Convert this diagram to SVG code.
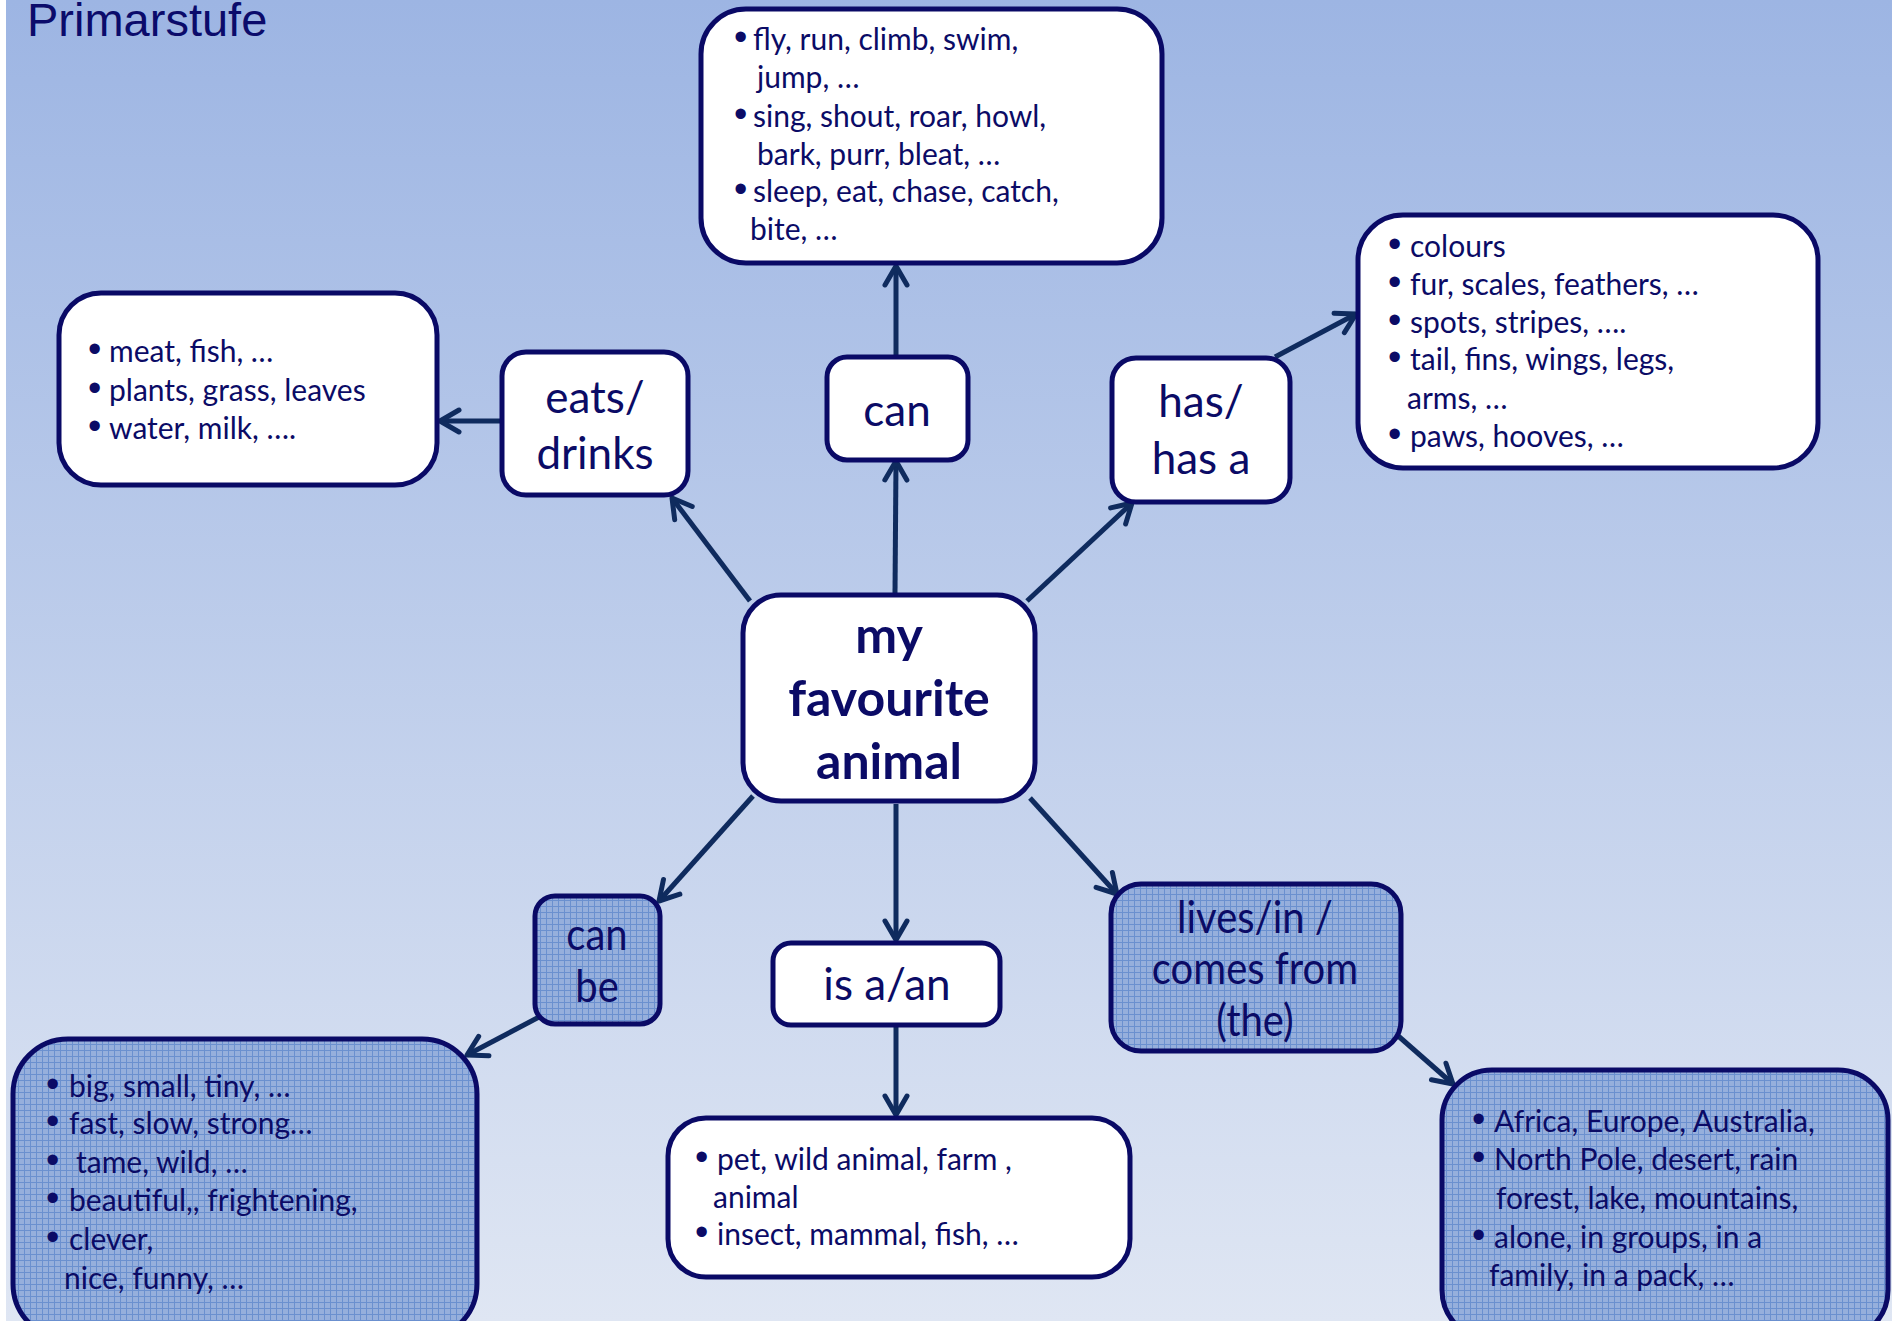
<svg xmlns="http://www.w3.org/2000/svg" width="1892" height="1321" viewBox="0 0 1892 1321">
<defs>
<linearGradient id="bg" x1="0" y1="0" x2="0" y2="1">
<stop offset="0" stop-color="#9db5e3"/>
<stop offset="1" stop-color="#dfe6f3"/>
</linearGradient>
<pattern id="grid" width="6" height="6" patternUnits="userSpaceOnUse">
<rect width="6" height="6" fill="#96afdc"/>
<path d="M0,0.5H6M0.5,0V6" stroke="#6b90cf" stroke-width="1"/>
</pattern>
<marker id="arr" viewBox="0 0 26 26" refX="22" refY="13" markerWidth="26" markerHeight="26" markerUnits="userSpaceOnUse" orient="auto" overflow="visible">
<path d="M3,2 L22,13 L3,24" fill="none" stroke="#0f2b5e" stroke-width="5" stroke-linecap="round" stroke-linejoin="round"/>
</marker>
</defs>
<style>
.box{fill:#fff;stroke:#0a0a66;stroke-width:5}
.pbox{fill:url(#grid);stroke:#0a0a66;stroke-width:5}
.lbl{font-family:Lato,"Liberation Sans",sans-serif;font-size:44px;fill:#0b0b66;text-anchor:middle}
.plbl{font-family:Lato,"Liberation Sans",sans-serif;font-size:40px;fill:#0b0b66;text-anchor:middle}
.lst{font-family:Lato,"Liberation Sans",sans-serif;font-size:30px;fill:#0b0b66}
.bul{font-family:"Liberation Sans",sans-serif;font-size:38px}
.ctr{font-family:Lato,"Liberation Sans",sans-serif;font-size:50px;font-weight:bold;fill:#0b0b66;text-anchor:middle}
.con{stroke:#0f2b5e;stroke-width:5;fill:none;marker-end:url(#arr)}
</style>
<rect x="0" y="0" width="1892" height="1321" fill="#fff"/>
<rect x="6" y="0" width="1886" height="1321" fill="url(#bg)"/>
<text x="27" y="36" font-family="Liberation Sans, Arial, sans-serif" font-size="47" fill="#0b0b6b">Primarstufe</text>

<g id="connectors">
<line class="con" x1="750" y1="601" x2="672" y2="498"/>
<line class="con" x1="502" y1="421" x2="440" y2="421"/>
<line class="con" x1="895" y1="594" x2="896" y2="461"/>
<line class="con" x1="896" y1="357" x2="896" y2="266"/>
<line class="con" x1="1027" y1="601" x2="1132" y2="503"/>
<line class="con" x1="1275" y1="357" x2="1356" y2="314"/>
<line class="con" x1="753" y1="796" x2="659" y2="901"/>
<line class="con" x1="539" y1="1017" x2="467" y2="1055"/>
<line class="con" x1="896" y1="804" x2="896" y2="940"/>
<line class="con" x1="896" y1="1026" x2="896" y2="1115"/>
<line class="con" x1="1030" y1="798" x2="1117" y2="894"/>
<line class="con" x1="1388" y1="1027" x2="1453" y2="1084"/>
</g>

<g id="can-list">
<rect class="box" x="701" y="9" width="461" height="254" rx="45"/>
<text class="lst"><tspan class="bul" x="734" y="50">•</tspan><tspan x="753" y="50">fly, run, climb, swim,</tspan><tspan x="757" y="88">jump, …</tspan><tspan class="bul" x="734" y="127">•</tspan><tspan x="753" y="127">sing, shout, roar, howl,</tspan><tspan x="757" y="165">bark, purr, bleat, …</tspan><tspan class="bul" x="734" y="202">•</tspan><tspan x="753" y="202">sleep, eat, chase, catch,</tspan><tspan x="750" y="240">bite, …</tspan></text>
</g>

<g id="has-list">
<rect class="box" x="1358" y="215" width="460" height="253" rx="45"/>
<text class="lst"><tspan class="bul" x="1388" y="257">•</tspan><tspan x="1410" y="257">colours</tspan><tspan class="bul" x="1388" y="295">•</tspan><tspan x="1410" y="295">fur, scales, feathers, …</tspan><tspan class="bul" x="1388" y="333">•</tspan><tspan x="1410" y="333">spots, stripes, ….</tspan><tspan class="bul" x="1388" y="370">•</tspan><tspan x="1410" y="370">tail, fins, wings, legs,</tspan><tspan x="1407" y="409">arms, …</tspan><tspan class="bul" x="1388" y="447">•</tspan><tspan x="1410" y="447">paws, hooves, …</tspan></text>
</g>

<g id="eats-list">
<rect class="box" x="59" y="293" width="378" height="192" rx="42"/>
<text class="lst"><tspan class="bul" x="88" y="362">•</tspan><tspan x="109" y="362">meat, fish, …</tspan><tspan class="bul" x="88" y="401">•</tspan><tspan x="109" y="401">plants, grass, leaves</tspan><tspan class="bul" x="88" y="439">•</tspan><tspan x="109" y="439">water, milk, ….</tspan></text>
</g>

<g id="eats">
<rect class="box" x="502" y="352" width="186" height="143" rx="24"/>
<text class="lbl"><tspan x="595" y="413">eats/</tspan><tspan x="595" y="469">drinks</tspan></text>
</g>

<g id="can">
<rect class="box" x="827" y="357" width="141" height="103" rx="20"/>
<text class="lbl" x="897" y="426">can</text>
</g>

<g id="has">
<rect class="box" x="1112" y="358" width="178" height="144" rx="24"/>
<text class="lbl"><tspan x="1201" y="417">has/</tspan><tspan x="1201" y="474">has a</tspan></text>
</g>

<g id="center">
<rect class="box" x="743" y="595" width="292" height="206" rx="38"/>
<text class="ctr"><tspan x="889" y="653">my</tspan><tspan x="889" y="716">favourite</tspan><tspan x="889" y="779">animal</tspan></text>
</g>

<g id="can-be">
<rect class="pbox" x="535" y="896" width="125" height="128" rx="20"/>
<text class="plbl" transform="translate(597,950) scale(1,1.12)">can</text>
<text class="plbl" transform="translate(597,1002) scale(1,1.12)">be</text>
</g>

<g id="can-be-list">
<rect class="pbox" x="13" y="1039" width="464" height="300" rx="55"/>
<g class="lst">
<text class="bul" x="46" y="1097">•</text><text transform="translate(69,1097) scale(1,1.05)">big, small, tiny, …</text>
<text class="bul" x="46" y="1134">•</text><text transform="translate(69,1134) scale(1,1.05)">fast, slow, strong…</text>
<text class="bul" x="46" y="1173">•</text><text transform="translate(76,1173) scale(1,1.05)">tame, wild, …</text>
<text class="bul" x="46" y="1211">•</text><text transform="translate(69,1211) scale(1,1.05)">beautiful,, frightening,</text>
<text class="bul" x="46" y="1250">•</text><text transform="translate(69,1250) scale(1,1.05)">clever,</text>
<text transform="translate(64,1289) scale(1,1.05)">nice, funny, …</text>
</g>
</g>

<g id="is-a">
<rect class="box" x="773" y="943" width="227" height="82" rx="18"/>
<text class="lbl" x="887" y="1000">is a/an</text>
</g>

<g id="is-a-list">
<rect class="box" x="668" y="1118" width="462" height="159" rx="38"/>
<text class="lst"><tspan class="bul" x="695" y="1170">•</tspan><tspan x="717" y="1170">pet, wild animal, farm ,</tspan><tspan x="713" y="1208">animal</tspan><tspan class="bul" x="695" y="1245">•</tspan><tspan x="717" y="1245">insect, mammal, fish, …</tspan></text>
</g>

<g id="lives">
<rect class="pbox" x="1111" y="884" width="290" height="167" rx="30"/>
<text class="plbl" transform="translate(1255,933) scale(1,1.12)">lives/in /</text>
<text class="plbl" transform="translate(1255,984) scale(1,1.12)">comes from</text>
<text class="plbl" transform="translate(1255,1036) scale(1,1.12)">(the)</text>
</g>

<g id="lives-list">
<rect class="pbox" x="1442" y="1070" width="446" height="270" rx="50"/>
<g class="lst">
<text class="bul" x="1472" y="1132">•</text><text transform="translate(1494,1132) scale(1,1.05)">Africa, Europe, Australia,</text>
<text class="bul" x="1472" y="1170">•</text><text transform="translate(1494,1170) scale(1,1.05)">North Pole, desert, rain</text>
<text transform="translate(1496,1209) scale(1,1.05)">forest, lake, mountains,</text>
<text class="bul" x="1472" y="1248">•</text><text transform="translate(1494,1248) scale(1,1.05)">alone, in groups, in a</text>
<text transform="translate(1489,1286) scale(1,1.05)">family, in a pack, …</text>
</g>
</g>
</svg>
